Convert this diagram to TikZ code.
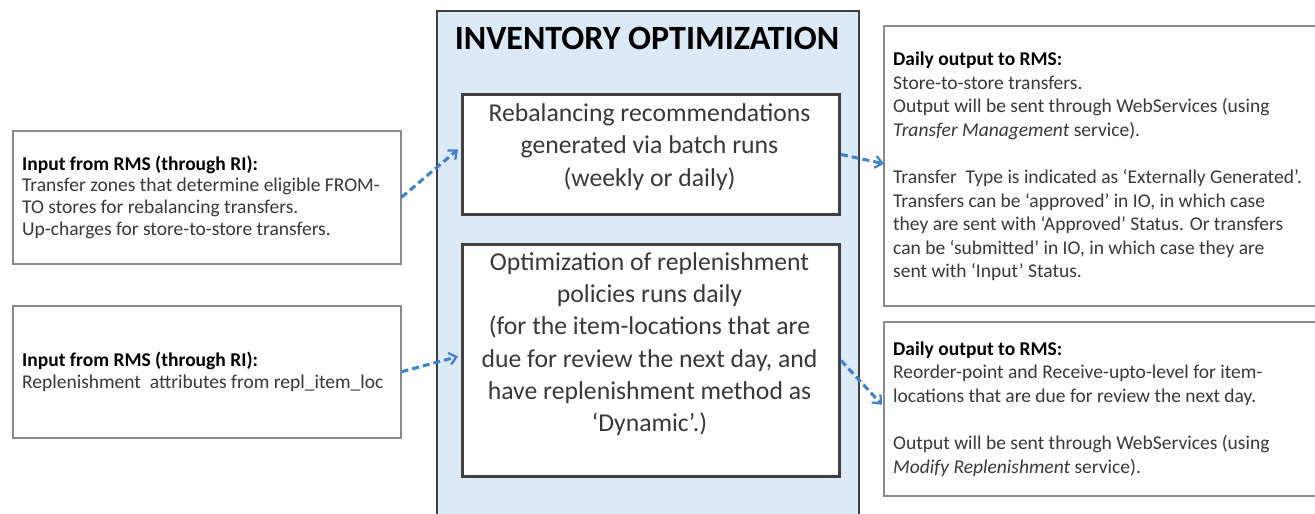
\documentclass[tikz,border=0pt]{standalone}
\usepackage{fontspec}
\setmainfont{Carlito}
\usetikzlibrary{arrows.meta}
\definecolor{ioblue}{HTML}{DCE9F6}
\definecolor{arrowblue}{HTML}{3E7FD0}
\definecolor{txtgrey}{HTML}{383838}
\definecolor{boxgrey}{HTML}{8A8A8A}
\definecolor{darkframe}{HTML}{404040}
\begin{document}
\begin{tikzpicture}[x=1pt,y=-1pt,
  sidebox/.style={draw=boxgrey, line width=1.5pt, fill=white, inner sep=0pt},
  innerbox/.style={draw=darkframe, line width=3pt, fill=white, inner sep=0pt},
  outerbox/.style={draw=darkframe, line width=2pt, fill=ioblue, inner sep=0pt},
  sidetext/.style={inner sep=0pt, anchor=west, align=left, text=txtgrey, font=\fontsize{19.5}{21.7}\selectfont},
  outtext/.style={inner sep=0pt, anchor=west, align=left, text=txtgrey, font=\fontsize{19.5}{23.6}\selectfont},
  centertext/.style={inner sep=0pt, align=center, text=txtgrey, font=\fontsize{25.7}{32.3}\selectfont},
  flow/.style={draw=arrowblue, line width=3pt, dash pattern=on 7pt off 4pt, -{Straight Barb[length=7pt,width=12pt,line width=2.2pt]}}
]
\useasboundingbox (0,0) rectangle (1315,514);
% outer box
\node[outerbox, minimum width=422pt, minimum height=540pt, anchor=north west] (outer) at (436,10) {};
\node[inner sep=0pt, font=\fontsize{34}{38}\selectfont\bfseries] (title) at (647,38) {INVENTORY OPTIMIZATION};
% center boxes
\node[innerbox, minimum width=377pt, minimum height=120pt, anchor=north west] (cb1) at (461,93) {};
\node[centertext] (cb1t) at (649.5,147) {Rebalancing recommendations\\generated via batch runs\\(weekly or daily)};
\node[innerbox, minimum width=377pt, minimum height=232pt, anchor=north west] (cb2) at (461,243) {};
\node[centertext] (cb2t) at (649.5,344) {Optimization of replenishment\\policies runs daily\\(for the item-locations that are\\due for review the next day, and\\have replenishment method as\\‘Dynamic’.)};
% left boxes
\node[sidebox, minimum width=388pt, minimum height=133pt, anchor=north west] (lb1) at (12,130) {};
\node[sidetext] (lb1t) at (22,197) {\textbf{\color{black}Input from RMS (through RI):}\\Transfer zones that determine eligible FROM-\\TO stores for rebalancing transfers.\\Up-charges for store-to-store transfers.};
\node[sidebox, minimum width=388pt, minimum height=132pt, anchor=north west] (lb2) at (12,305) {};
\node[sidetext] (lb2t) at (22,372) {\textbf{\color{black}Input from RMS (through RI):}\\Replenishment\ \ attributes from repl\_item\_loc};
% right boxes
\node[sidebox, minimum width=450pt, minimum height=280pt, anchor=north west] (rb1) at (883,25) {};
\node[outtext] (rb1t) at (893,166.5) {\textbf{\color{black}Daily output to RMS:}\\Store-to-store transfers.\\Output will be sent through WebServices (using\\\textit{Transfer Management} service).\\[23.6pt]Transfer\ \ Type is indicated as ‘Externally Generated’.\\Transfers can be ‘approved’ in IO, in which case\\they are sent with ‘Approved’ Status. Or transfers\\can be ‘submitted’ in IO, in which case they are\\sent with ‘Input’ Status.};
\node[sidebox, minimum width=450pt, minimum height=174pt, anchor=north west] (rb2) at (883,321) {};
\node[outtext] (rb2t) at (893,409) {\textbf{\color{black}Daily output to RMS:}\\Reorder-point and Receive-upto-level for item-\\locations that are due for review the next day.\\[23.6pt]Output will be sent through WebServices (using\\\textit{Modify Replenishment} service).};
% arrows
\draw[flow] (lb1.east) -- ([shift={(-3,-5)}]cb1.west);
\draw[flow] (lb2.east) -- ([shift={(-3,-4)}]cb2.west);
\draw[flow] (cb1.east) -- ([shift={(1,-2)}]rb1.west);
\draw[flow] (cb2.east) -- ([shift={(-1,-4)}]rb2.west);
\end{tikzpicture}
\end{document}
